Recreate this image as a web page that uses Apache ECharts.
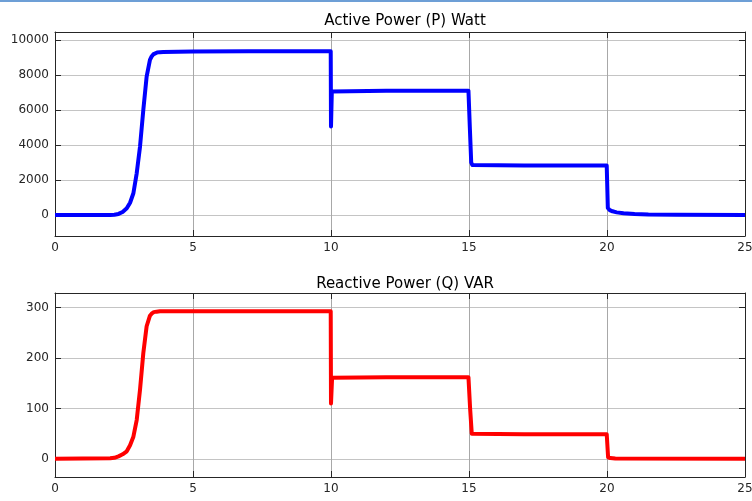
<!DOCTYPE html>
<html>
<head>
<meta charset="utf-8">
<script src="https://cdn.jsdelivr.net/npm/echarts@6/dist/echarts.min.js"></script>
<style>
  html, body { margin: 0; padding: 0; background: #fff; }
  #chart { width: 752px; height: 501px; }
</style>
</head>
<body>
<div id="chart"></div>
<script>
// active power P (Watt)
var pTime  = [0, 2.0, 2.15, 2.3, 2.45, 2.6, 2.72, 2.84, 2.96, 3.08, 3.2, 3.32, 3.44, 3.5, 3.56, 3.62, 3.7, 3.8, 3.92, 5, 7, 9.99, 10.0, 10.03, 10.07, 12, 14.98, 15.03, 15.08, 15.12, 15.18, 17, 19.99, 20.03, 20.1, 20.2, 20.35, 20.6, 21.0, 21.5, 22.5, 25];
var pValue = [0, 0, 15, 60, 170, 380, 700, 1240, 2380, 3900, 6000, 7900, 8860, 9050, 9170, 9240, 9280, 9300, 9310, 9340, 9350, 9350, 5050, 7050, 7090, 7100, 7100, 5000, 3000, 2860, 2830, 2830, 2820, 400, 280, 210, 150, 100, 60, 30, 10, 0];

// reactive power Q (VAR), lower plot
var qTime  = [0, 2.0, 2.15, 2.3, 2.45, 2.6, 2.72, 2.84, 2.96, 3.08, 3.2, 3.32, 3.44, 3.5, 3.58, 3.68, 3.8, 4.5, 9.99, 10.0, 10.04, 12, 14.98, 15.04, 15.1, 15.16, 17, 19.99, 20.04, 20.12, 20.3, 25];
var qValue = [0, 1, 2, 5, 9, 15, 27, 44, 77, 137, 210, 263, 284, 288, 291, 292, 293, 293, 293, 110, 161, 162, 162, 100, 50, 49, 49, 49, 3, 1.5, 0.5, 0];

var xTicks = [0, 5, 10, 15, 20, 25];
var pTicks = [0, 2000, 4000, 6000, 8000, 10000];
var qTicks = [0, 100, 200, 300];

var titles = ['Active Power (P) Watt', 'Reactive Power (Q) VAR'];

function pairs(t, v) {
  return t.map(function (x, i) { return [x, v[i]]; });
}

var ink = '#262626';
var font = 'DejaVu Sans, sans-serif';

function xAxis(grid, show) {
  return {
    type: 'value', gridIndex: grid, min: 0, max: 25, interval: 5,
    position: show ? 'bottom' : 'top',
    axisLine: { show: true, onZero: false, lineStyle: { color: ink, width: 1 } },
    axisTick: { show: true, inside: true, length: 6, lineStyle: { color: ink } },
    axisLabel: { show: show, color: ink, fontSize: 12, fontFamily: font, margin: 6 },
    splitLine: { show: show, lineStyle: { color: '#a8a8a8', width: 1 } }
  };
}

function yAxis(grid, min, max, ticks, show) {
  return {
    type: 'value', gridIndex: grid, min: min, max: max,
    position: show ? 'left' : 'right',
    axisLine: { show: true, onZero: false, lineStyle: { color: ink, width: 1 } },
    axisTick: { show: true, inside: true, length: 6, customValues: ticks, lineStyle: { color: ink } },
    axisLabel: { show: show, customValues: ticks, color: ink, fontSize: 12, fontFamily: font, margin: 6,
      formatter: function (v) { return String(v); } },
    splitLine: { show: show, lineStyle: { color: '#c4c4c4', width: 1 } }
  };
}

var chart = echarts.init(document.getElementById('chart'), null, { renderer: 'canvas' });

chart.setOption({
  backgroundColor: '#fff',
  animation: false,
  title: [
    { text: titles[0], left: 400, textAlign: 'center', top: 9,
      textStyle: { color: '#000', fontSize: 15, fontWeight: 'normal', fontFamily: font } },
    { text: titles[1], left: 400, textAlign: 'center', top: 272,
      textStyle: { color: '#000', fontSize: 15, fontWeight: 'normal', fontFamily: font } }
  ],
  graphic: [
    { type: 'rect', left: 0, top: 0, shape: { width: 752, height: 2 },
      style: { fill: '#6d9fd6' } }
  ],
  grid: [
    { left: 55, right: 7, top: 32, bottom: 265, outerBoundsMode: 'none' },
    { left: 55, right: 7, top: 293, bottom: 24, outerBoundsMode: 'none' }
  ],
  xAxis: [xAxis(0, true), xAxis(0, false), xAxis(1, true), xAxis(1, false)],
  yAxis: [
    yAxis(0, -1200, 10450, pTicks, true), yAxis(0, -1200, 10450, pTicks, false),
    yAxis(1, -36, 329, qTicks, true), yAxis(1, -36, 329, qTicks, false)
  ],
  series: [
    { type: 'line', xAxisIndex: 0, yAxisIndex: 0, data: pairs(pTime, pValue),
      showSymbol: false, lineStyle: { color: '#0000ff', width: 4, join: 'round' }, z: 5 },
    { type: 'line', xAxisIndex: 2, yAxisIndex: 2, data: pairs(qTime, qValue),
      showSymbol: false, lineStyle: { color: '#ff0000', width: 4, join: 'round' }, z: 5 }
  ]
});
</script>
</body>
</html>
